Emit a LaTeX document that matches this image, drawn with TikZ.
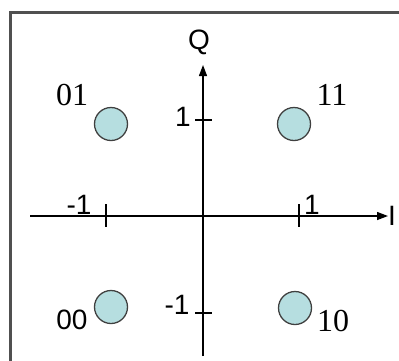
\documentclass[tikz,border=0pt]{standalone}
\usepackage{fontspec}
\setmainfont{Liberation Sans}
\newfontfamily\seriffont{Liberation Serif}
\usetikzlibrary{arrows.meta}
\definecolor{dotfill}{HTML}{B6DEE0}
\definecolor{framegray}{HTML}{505050}
\begin{document}
\begin{tikzpicture}[x=1pt,y=-1pt,
  dot/.style={circle,draw=black!75,line width=1.3pt,fill=dotfill,minimum size=33pt,inner sep=0pt},
  axis/.style={line width=1.3pt,-{Triangle[length=11pt,width=8pt]}},
  tick/.style={line width=1.1pt},
  lab/.style={font=\fontsize{28}{28}\selectfont,inner sep=0pt},
  qlab/.style={font=\fontsize{28}{28}\selectfont,inner sep=0pt},
  slab/.style={font=\seriffont\fontsize{32}{32}\selectfont,inner sep=0pt}]
\useasboundingbox (0,0) rectangle (399,360);
% frame
\draw[framegray,line width=2.5pt] (10.5,362) -- (10.5,12.5) -- (401,12.5);
% axes
\coordinate (xs) at (30,216);
\coordinate (xe) at (388,216);
\coordinate (ys) at (203,356);
\coordinate (ye) at (203,65);
\draw[axis] (xs) -- (xe);
\draw[axis] (ys) -- (ye);
% ticks
\coordinate (tx1a) at (106,204); \coordinate (tx1b) at (106,227);
\coordinate (tx2a) at (299,204); \coordinate (tx2b) at (299,227);
\coordinate (ty1a) at (195,120); \coordinate (ty1b) at (212,120);
\coordinate (ty2a) at (195,313); \coordinate (ty2b) at (212,313);
\draw[tick] (tx1a) -- (tx1b);
\draw[tick] (tx2a) -- (tx2b);
\draw[tick] (ty1a) -- (ty1b);
\draw[tick] (ty2a) -- (ty2b);
% axis labels
\node[qlab] (Q) at (199,42) {Q};
\node[qlab] (I) at (392,216) {I};
\node[lab] (ly1) at (183,117) {1};
\node[lab] (lym1) at (177,305) {-1};
\node[lab] (lxm1) at (79,205) {-1};
\node[lab] (lx1) at (312,205) {1};
% dots
\node[dot] (d01) at (111,124) {};
\node[dot] (d11) at (294,124) {};
\node[dot] (d00) at (111,307) {};
\node[dot] (d10) at (295,308) {};
% dot labels
\node[slab] (t01) at (72,95) {01};
\node[slab] (t11) at (332,95) {11};
\node[lab] (t00) at (72,320) {00};
\node[slab] (t10) at (333,321) {10};
\end{tikzpicture}
\end{document}
